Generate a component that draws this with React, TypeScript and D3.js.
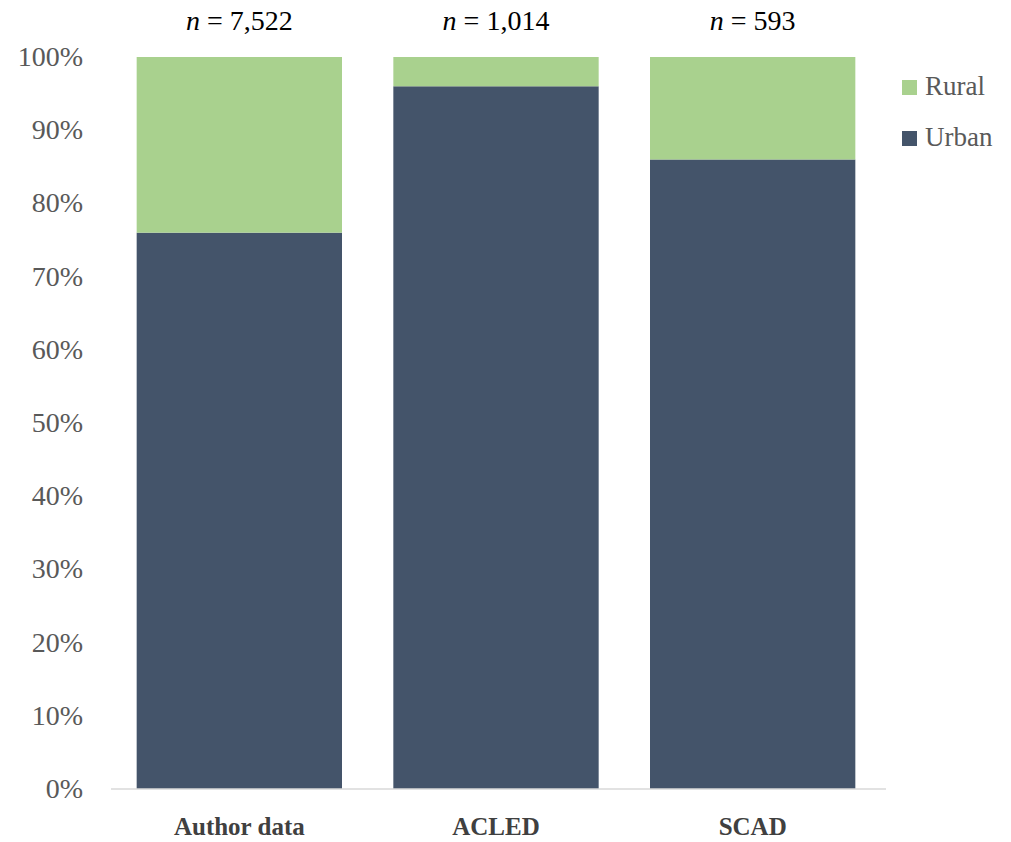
import React from "react";
import * as d3 from "d3";

const categories = ["Author data", "ACLED", "SCAD"];
const nLabels = ["7,522", "1,014", "593"];
const urban = [76, 96, 86];
const rural = [24, 4, 14];
const seriesNames = ["Rural", "Urban"];
const yTicks = [0, 10, 20, 30, 40, 50, 60, 70, 80, 90, 100];

const W = 1011;
const H = 842;
const FONT = "Liberation Serif, DejaVu Serif, serif";
const colors: Record<string, string> = { Rural: "#A9D18E", Urban: "#44546A" };

export default function App() {
  const x = d3.scaleBand<string>().domain(categories).range([111, 881]).paddingInner(0.2).paddingOuter(0.1);
  const y = d3.scaleLinear().domain([0, 100]).range([789, 57]);

  return (
    <svg width={W} height={H} style={{ position: "absolute", left: 0, top: 0, background: "#fff", fontFamily: FONT }}>
      {categories.map((c, i) => {
        const x0 = x(c)!;
        const bw = x.bandwidth();
        return (
          <g key={c}>
            <rect x={x0} y={y(urban[i])} width={bw} height={y(0) - y(urban[i])} fill={colors.Urban} />
            <rect x={x0} y={y(urban[i] + rural[i])} width={bw} height={y(urban[i]) - y(urban[i] + rural[i])} fill={colors.Rural} />
            <text x={x0 + bw / 2} y={30} textAnchor="middle" style={{ fontFamily: FONT, fontSize: 28 }} fill="#000">
              <tspan fontStyle="italic">n</tspan> = {nLabels[i]}
            </text>
            <text x={x0 + bw / 2} y={835} textAnchor="middle" style={{ fontFamily: FONT, fontSize: 25, fontWeight: 700 }} fill="#404040">
              {c}
            </text>
          </g>
        );
      })}
      <line x1={111} x2={886} y1={y(0)} y2={y(0)} stroke="#D9D9D9" strokeWidth={1.5} />
      {yTicks.map((t) => (
        <text key={t} x={83} y={y(t) + 9} textAnchor="end" style={{ fontFamily: FONT, fontSize: 28 }} fill="#595959">
          {t}%
        </text>
      ))}
      {seriesNames.map((s, i) => (
        <g key={s} transform={`translate(902, ${80 + i * 51})`}>
          <rect x={0} y={0} width={15} height={15} fill={colors[s]} />
          <text x={23} y={15} style={{ fontFamily: FONT, fontSize: 27 }} fill="#595959">
            {s}
          </text>
        </g>
      ))}
    </svg>
  );
}
